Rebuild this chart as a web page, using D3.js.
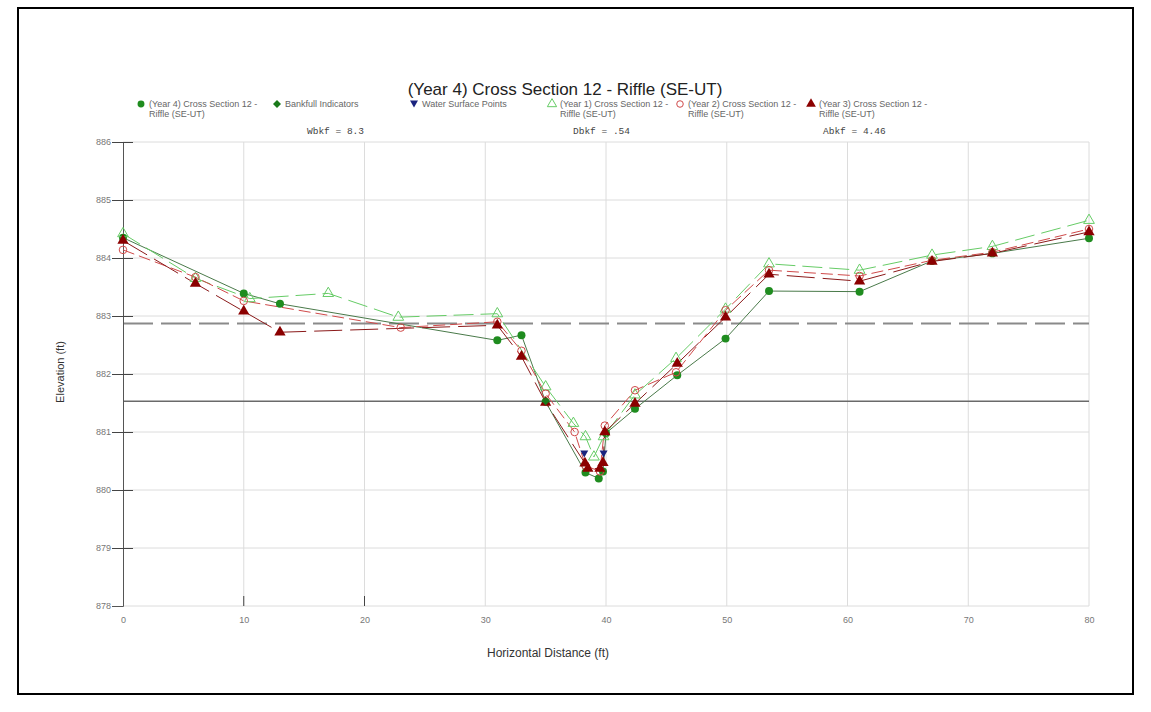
<!DOCTYPE html>
<html><head><meta charset="utf-8">
<script src="https://cdn.jsdelivr.net/npm/d3@7"></script>
<style>body{margin:0;background:#fff}svg{display:block}</style>
</head><body>
<svg id="c" width="1151" height="712"></svg>
<script>
const xTicks = [0,10,20,30,40,50,60,70,80];
const yTicks = [878,879,880,881,882,883,884,885,886];

const year4 = [[0,884.35],[10,883.39],[13,883.21],[31,882.58],[33,882.67],[35,881.52],[38.3,880.3],[39.4,880.2],[39.75,880.32],[40,880.98],[42.4,881.4],[45.9,881.98],[49.9,882.61],[53.5,883.43],[61,883.42],[67,883.95],[72,884.08],[80,884.34]];
const year1 = [[0,884.42],[6,883.65],[10.5,883.3],[17,883.39],[22.8,882.98],[31,883.04],[35,881.78],[37.3,881.15],[38.3,880.92],[39,880.57],[39.8,880.92],[42.4,881.64],[45.8,882.27],[49.9,883.12],[53.5,883.9],[61,883.79],[67,884.05],[72,884.2],[80,884.65]];
const year2 = [[0,884.14],[6,883.67],[10,883.26],[23,882.8],[31,882.9],[33,882.4],[35,881.66],[37.4,881.0],[38.3,880.42],[39.5,880.32],[39.9,881.11],[42.4,881.72],[45.8,882.03],[49.9,883.1],[53.5,883.79],[61,883.69],[67,883.96],[72,884.1],[80,884.5]];
const year3 = [[0,884.3],[6,883.56],[10,883.08],[13,882.72],[31,882.84],[33,882.3],[35,881.51],[38.26,880.46],[38.5,880.37],[39.5,880.37],[39.75,880.47],[39.9,881.0],[42.4,881.49],[45.9,882.18],[49.9,882.98],[53.5,883.72],[61,883.6],[67,883.94],[72,884.08],[80,884.45]];
const bankfull = [[35,881.53]];
const waterSurface = [[38.2,880.62],[39.8,880.62]];
const bankfullElev = 882.87;
const waterElev = 881.53;
const stats = ["Wbkf = 8.3","Dbkf = .54","Abkf = 4.46"];
const legendNames = ["(Year 4) Cross Section 12 -|Riffle (SE-UT)","Bankfull Indicators","Water Surface Points","(Year 1) Cross Section 12 -|Riffle (SE-UT)","(Year 2) Cross Section 12 -|Riffle (SE-UT)","(Year 3) Cross Section 12 -|Riffle (SE-UT)"];

const svg = d3.select("#c");
const x = d3.scaleLinear().domain([0,80]).range([123,1089]);
const y = d3.scaleLinear().domain([878,886]).range([606,142]);

// frame
svg.append("rect").attr("x",18).attr("y",8).attr("width",1115).attr("height",686)
  .attr("fill","none").attr("stroke","#000").attr("stroke-width",2);

// grid
const g = svg.append("g");
g.selectAll(".vg").data(xTicks.slice(1)).join("line")
  .attr("x1",d=>x(d)).attr("x2",d=>x(d)).attr("y1",y(886)).attr("y2",y(878))
  .attr("stroke","#dcdcdc").attr("stroke-width",1);
g.selectAll(".hg").data(yTicks).join("line")
  .attr("x1",x(0)).attr("x2",x(80)).attr("y1",d=>y(d)).attr("y2",d=>y(d))
  .attr("stroke","#dcdcdc").attr("stroke-width",1);

// reference lines
svg.append("line").attr("x1",x(0)).attr("x2",x(80)).attr("y1",y(bankfullElev)).attr("y2",y(bankfullElev))
  .attr("stroke","#8a8a8a").attr("stroke-width",2).attr("stroke-dasharray","30,8");
svg.append("line").attr("x1",x(0)).attr("x2",x(80)).attr("y1",y(waterElev)).attr("y2",y(waterElev))
  .attr("stroke","#6a6a6a").attr("stroke-width",1.3);

// y axis
const ya = svg.append("g").attr("transform",`translate(${x(0)},0)`)
  .call(d3.axisLeft(y).tickValues(yTicks).tickFormat(d3.format("d")).tickSize(11).tickPadding(1));
ya.select(".domain").attr("stroke","#555");
ya.selectAll(".tick line").attr("x1",-11).attr("x2",10).attr("stroke","#444");
ya.selectAll(".tick").filter(d=>d===878).select("line").remove();
ya.selectAll("text").attr("font-family","Arial, Liberation Sans, sans-serif").attr("font-size",9).attr("fill","#777");

// x axis
const xa = svg.append("g").attr("transform",`translate(0,${y(878)})`)
  .call(d3.axisBottom(x).tickValues(xTicks).tickSize(0).tickPadding(11));
xa.select(".domain").remove();
xa.selectAll("text").attr("font-family","Arial, Liberation Sans, sans-serif").attr("font-size",9).attr("fill","#777");
svg.selectAll(".xt").data([10,20]).join("line")
  .attr("x1",d=>x(d)).attr("x2",d=>x(d)).attr("y1",y(878)-10).attr("y2",y(878)).attr("stroke","#444");

// lines
const line = d3.line().x(d=>x(d[0])).y(d=>y(d[1]));
const series = [
  {data:year4, color:"#4a7a4a", dash:null},
  {data:year1, color:"#66cc66", dash:"20,7"},
  {data:year2, color:"#d04a4a", dash:"12,5"},
  {data:year3, color:"#8b1a1a", dash:"28,8"}
];
series.forEach(s=>{
  svg.append("path").datum(s.data).attr("d",line).attr("fill","none")
    .attr("stroke",s.color).attr("stroke-width",1).attr("stroke-dasharray",s.dash);
});

// markers
const sym = (type,size)=>d3.symbol().type(type).size(size)();
const triDown = "M-4,-3.5L4,-3.5L0,3.5Z";
const diamond = "M0,-4L4,0L0,4L-4,0Z";
function markers(data, kind){
  const sel = svg.append("g").selectAll("path").data(data).join("path")
    .attr("transform",d=>`translate(${x(d[0])},${y(d[1])})`);
  styleMarker(sel, kind, 1);
}
function styleMarker(sel, kind, k){
  if(kind==="y4") sel.attr("d",sym(d3.symbolCircle,50*k)).attr("fill","#1f8c1f");
  if(kind==="bf") sel.attr("d",diamond).attr("fill","#1a7a1a");
  if(kind==="ws") sel.attr("d",triDown).attr("fill","#1a237e");
  if(kind==="y1") sel.attr("d",sym(d3.symbolTriangle,50*k)).attr("fill","none").attr("stroke","#66cc66").attr("stroke-width",1);
  if(kind==="y2") sel.attr("d",sym(d3.symbolCircle,45*k)).attr("fill","none").attr("stroke","#d04a4a").attr("stroke-width",1);
  if(kind==="y3") sel.attr("d",sym(d3.symbolTriangle,55*k)).attr("fill","#8b0000");
}
markers(year4,"y4");
markers(year1,"y1");
markers(year2,"y2");
markers(year3,"y3");
markers(bankfull,"bf");
markers(waterSurface,"ws");

// title
svg.append("text").attr("x",565).attr("y",95).attr("text-anchor","middle")
  .attr("font-family","Arial, Liberation Sans, sans-serif").attr("font-size",17).attr("fill","#222")
  .text("(Year 4) Cross Section 12 - Riffle (SE-UT)");

// legend
const legX = [141,277,414,552,680,811];
const kinds = ["y4","bf","ws","y1","y2","y3"];
legendNames.forEach((n,i)=>{
  const m = svg.append("path").attr("transform",`translate(${legX[i]},104)`);
  styleMarker(m, kinds[i], 0.75);
  const lines = n.split("|");
  lines.forEach((t,j)=>{
    svg.append("text").attr("x",legX[i]+8).attr("y",107+j*10)
      .attr("font-family","Arial, Liberation Sans, sans-serif").attr("font-size",9).attr("fill","#666").text(t);
  });
});

// stats
const statX = [307,573,823];
stats.forEach((s,i)=>{
  svg.append("text").attr("x",statX[i]).attr("y",134)
    .attr("font-family","Liberation Mono, DejaVu Sans Mono, monospace").attr("font-size",9.5).attr("fill","#444")
    .text(s);
});

// axis titles
svg.append("text").attr("transform","translate(64,372) rotate(-90)").attr("text-anchor","middle")
  .attr("font-family","Arial, Liberation Sans, sans-serif").attr("font-size",11).attr("fill","#333").text("Elevation (ft)");
svg.append("text").attr("x",548).attr("y",657).attr("text-anchor","middle")
  .attr("font-family","Arial, Liberation Sans, sans-serif").attr("font-size",12).attr("fill","#333").text("Horizontal Distance (ft)");
</script>
</body></html>
